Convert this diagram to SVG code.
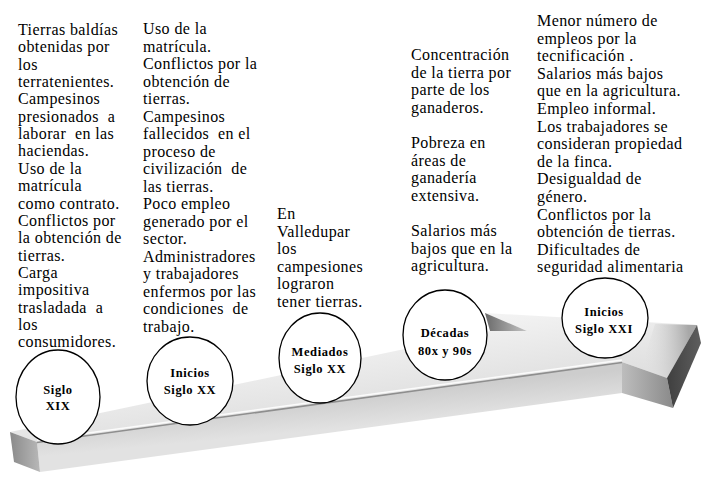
<svg xmlns="http://www.w3.org/2000/svg" width="714" height="490" viewBox="0 0 714 490">
<style>
.body{font-family:"Liberation Serif","Times New Roman",serif;font-size:16px;letter-spacing:0.4px;fill:#000;white-space:pre}
.lbl{font-family:"Liberation Serif","Times New Roman",serif;font-size:12.5px;font-weight:bold;letter-spacing:0.6px;fill:#000;text-anchor:middle}
.node ellipse{fill:#fff;stroke:#000;stroke-width:1.3}
</style>
<defs>
<linearGradient id="gTop" gradientUnits="userSpaceOnUse" x1="300" y1="330" x2="312" y2="415">
<stop offset="0" stop-color="#f6f6f6"/><stop offset="1" stop-color="#e0e0e0"/>
</linearGradient>
<linearGradient id="gFront" gradientUnits="userSpaceOnUse" x1="300" y1="400" x2="303" y2="432">
<stop offset="0" stop-color="#cdcdcd"/><stop offset="1" stop-color="#e2e2e2"/>
</linearGradient>
<linearGradient id="gEnd" x1="0" y1="0" x2="1" y2="0">
<stop offset="0" stop-color="#8a8a8a"/><stop offset="1" stop-color="#b8b8b8"/>
</linearGradient>
<linearGradient id="gHeadFront" x1="0" y1="0" x2="1" y2="0">
<stop offset="0" stop-color="#bdbdbd"/><stop offset="1" stop-color="#8a8a8a"/>
</linearGradient>
<linearGradient id="gDark" x1="0" y1="0" x2="1" y2="0">
<stop offset="0" stop-color="#3f3f3f"/><stop offset="1" stop-color="#5e5e5e"/>
</linearGradient>
<linearGradient id="gBarb" x1="0" y1="0" x2="1" y2="0">
<stop offset="0" stop-color="#6a6a6a"/><stop offset="1" stop-color="#c4c4c4"/>
</linearGradient>
<linearGradient id="gBevel" gradientUnits="userSpaceOnUse" x1="640" y1="350" x2="690" y2="345">
<stop offset="0" stop-color="#e6e6e6" stop-opacity="0"/><stop offset="1" stop-color="#a8a8a8"/>
</linearGradient>
</defs>

<g id="timeline-arrow">
<polygon points="10,432 490,331 527,331 485,313 697,325 667,378 622,362 37,442" fill="url(#gTop)"/>
<polygon points="485,313 527,331 490,331" fill="url(#gBarb)"/>
<polygon points="655,324 697,325 667,378 640,372" fill="url(#gBevel)"/>
<polygon points="37,442 622,362 622,393 40,472" fill="url(#gFront)"/>
<polygon points="10,432 37,442 40,472 14,462" fill="url(#gEnd)"/>
<polygon points="622,362 667,378 673,408 622,393" fill="url(#gHeadFront)"/>
<polygon points="697,325 701,343 673,408 667,378" fill="url(#gDark)"/>
<line x1="37" y1="440" x2="622" y2="360" stroke="#fbfbfb" stroke-width="1.5"/>
<line x1="37" y1="442.5" x2="622" y2="362.5" stroke="#8e8e8e" stroke-width="1.6"/>
</g>

<g id="connectors"/>

<g id="text-siglo-xix">
<text class="body" x="18" y="35"><tspan x="18">Tierras baldías</tspan><tspan x="18" dy="17.35">obtenidas por</tspan><tspan x="18" dy="17.35">los</tspan><tspan x="18" dy="17.35">terratenientes.</tspan><tspan x="18" dy="17.35">Campesinos</tspan><tspan x="18" dy="17.35">presionados  a</tspan><tspan x="18" dy="17.35">laborar  en las</tspan><tspan x="18" dy="17.35">haciendas.</tspan><tspan x="18" dy="17.35">Uso de la</tspan><tspan x="18" dy="17.35">matrícula</tspan><tspan x="18" dy="17.35">como contrato.</tspan><tspan x="18" dy="17.35">Conflictos por</tspan><tspan x="18" dy="17.35">la obtención de</tspan><tspan x="18" dy="17.35">tierras.</tspan><tspan x="18" dy="17.35">Carga</tspan><tspan x="18" dy="17.35">impositiva</tspan><tspan x="18" dy="17.35">trasladada  a</tspan><tspan x="18" dy="17.35">los</tspan><tspan x="18" dy="17.35">consumidores.</tspan></text>
</g>

<g id="text-inicios-siglo-xx">
<text class="body" x="143" y="34"><tspan x="143">Uso de la</tspan><tspan x="143" dy="17.5">matrícula.</tspan><tspan x="143" dy="17.5">Conflictos por la</tspan><tspan x="143" dy="17.5">obtención de</tspan><tspan x="143" dy="17.5">tierras.</tspan><tspan x="143" dy="17.5">Campesinos</tspan><tspan x="143" dy="17.5">fallecidos  en el</tspan><tspan x="143" dy="17.5">proceso de</tspan><tspan x="143" dy="17.5">civilización  de</tspan><tspan x="143" dy="17.5">las tierras.</tspan><tspan x="143" dy="17.5">Poco empleo</tspan><tspan x="143" dy="17.5">generado por el</tspan><tspan x="143" dy="17.5">sector.</tspan><tspan x="143" dy="17.5">Administradores</tspan><tspan x="143" dy="17.5">y trabajadores</tspan><tspan x="143" dy="17.5">enfermos por las</tspan><tspan x="143" dy="17.5">condiciones  de</tspan><tspan x="143" dy="17.5">trabajo.</tspan></text>
</g>

<g id="text-mediados-siglo-xx">
<text class="body" x="277" y="219"><tspan x="277">En</tspan><tspan x="277" dy="17.6">Valledupar</tspan><tspan x="277" dy="17.6">los</tspan><tspan x="277" dy="17.6">campesiones</tspan><tspan x="277" dy="17.6">lograron</tspan><tspan x="277" dy="17.6">tener tierras.</tspan></text>
</g>

<g id="text-decadas">
<text class="body" x="411" y="60"><tspan x="411">Concentración</tspan><tspan x="411" dy="17.6">de la tierra por</tspan><tspan x="411" dy="17.6">parte de los</tspan><tspan x="411" dy="17.6">ganaderos.</tspan><tspan x="411" dy="35.2">Pobreza en</tspan><tspan x="411" dy="17.6">áreas de</tspan><tspan x="411" dy="17.6">ganadería</tspan><tspan x="411" dy="17.6">extensiva.</tspan><tspan x="411" dy="35.2">Salarios más</tspan><tspan x="411" dy="17.6">bajos que en la</tspan><tspan x="411" dy="17.6">agricultura.</tspan></text>
</g>

<g id="text-inicios-siglo-xxi">
<text class="body" x="537" y="26"><tspan x="537">Menor número de</tspan><tspan x="537" dy="17.6">empleos por la</tspan><tspan x="537" dy="17.6">tecnificación .</tspan><tspan x="537" dy="17.6">Salarios más bajos</tspan><tspan x="537" dy="17.6">que en la agricultura.</tspan><tspan x="537" dy="17.6">Empleo informal.</tspan><tspan x="537" dy="17.6">Los trabajadores se</tspan><tspan x="537" dy="17.6">consideran propiedad</tspan><tspan x="537" dy="17.6">de la finca.</tspan><tspan x="537" dy="17.6">Desigualdad de</tspan><tspan x="537" dy="17.6">género.</tspan><tspan x="537" dy="17.6">Conflictos por la</tspan><tspan x="537" dy="17.6">obtención de tierras.</tspan><tspan x="537" dy="17.6">Dificultades de</tspan><tspan x="537" dy="17.6">seguridad alimentaria</tspan></text>
</g>

<g id="node-siglo-xix" class="node">
<ellipse cx="58" cy="397" rx="42" ry="47"/>
<text class="lbl" x="58" y="394">Siglo</text>
<text class="lbl" x="58" y="410">XIX</text>
</g>
<g id="node-inicios-siglo-xx" class="node">
<ellipse cx="190" cy="381" rx="43" ry="44"/>
<text class="lbl" x="190" y="377">Inicios</text>
<text class="lbl" x="190" y="394">Siglo XX</text>
</g>
<g id="node-mediados-siglo-xx" class="node">
<ellipse cx="320" cy="358" rx="41" ry="45"/>
<text class="lbl" x="320" y="356">Mediados</text>
<text class="lbl" x="320" y="373">Siglo XX</text>
</g>
<g id="node-decadas" class="node">
<ellipse cx="445" cy="335" rx="42" ry="45"/>
<text class="lbl" x="445" y="337">Décadas</text>
<text class="lbl" x="445" y="355">80x y 90s</text>
</g>
<g id="node-inicios-siglo-xxi" class="node">
<ellipse cx="605" cy="318" rx="43" ry="40"/>
<text class="lbl" x="604" y="316">Inicios</text>
<text class="lbl" x="604" y="333">Siglo XXI</text>
</g>
</svg>
